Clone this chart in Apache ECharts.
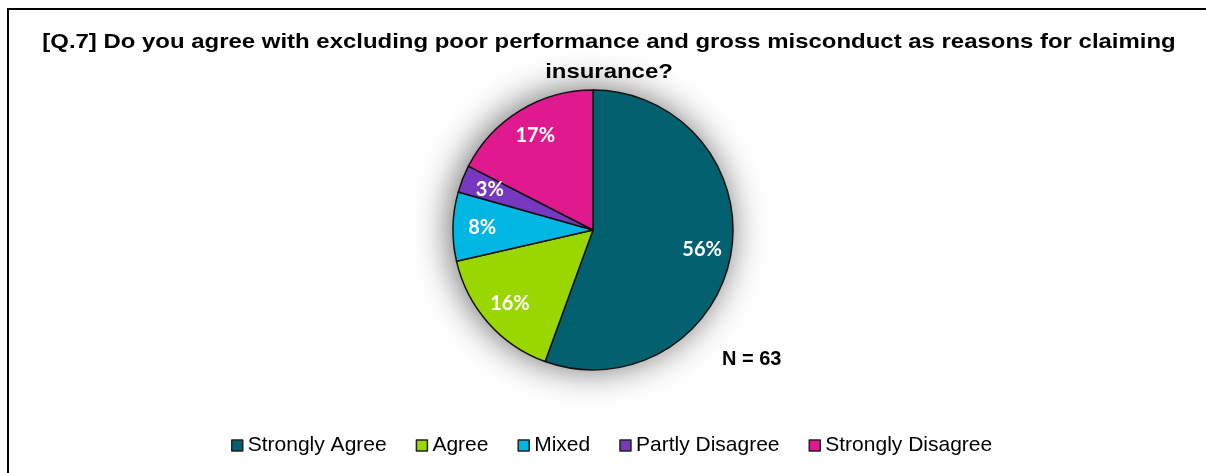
<!DOCTYPE html>
<html>
<head>
<meta charset="utf-8">
<script src="https://cdn.jsdelivr.net/npm/echarts@6/dist/echarts.min.js"></script>
<style>
  html, body { margin: 0; padding: 0; background: #ffffff; }
  #chart { width: 1206px; height: 473px; }
</style>
</head>
<body>
<div id="chart"></div>
<script>
// Survey responses for question 7 (N = 63)
const categories = ['Strongly Agree', 'Agree', 'Mixed', 'Partly Disagree', 'Strongly Disagree'];
const responseCounts = [35, 10, 5, 2, 11];
const sliceColors = ['#03616F', '#9AD600', '#00B6E2', '#7538BE', '#E0198F'];
const titleLines = [
  '[Q.7] Do you agree with excluding poor performance and gross misconduct as reasons for claiming',
  'insurance?'
];
const sampleNote = 'N = 63';

const total = responseCounts.reduce((a, b) => a + b, 0);
const pieData = categories.map((name, i) => ({
  name: name,
  value: responseCounts[i],
  itemStyle: { color: sliceColors[i] }
}));

const center = [593, 230];
const R = 140;

const chart = echarts.init(document.getElementById('chart'), null, { renderer: 'canvas' });
chart.setOption({
  backgroundColor: '#ffffff',
  animation: false,
  legend: {
    data: categories,
    left: 226,
    top: 430,
    itemWidth: 11,
    itemHeight: 11,
    itemGap: 29,
    icon: 'rect',
    itemStyle: { borderColor: '#222222', borderWidth: 1.5 },
    textStyle: {
      fontFamily: 'Liberation Sans, Arial, sans-serif',
      fontSize: 21,
      color: '#000000'
    }
  },
  graphic: [
    {
      type: 'rect',
      x: 8,
      y: 9,
      shape: { width: 1230, height: 500 },
      style: { fill: 'none', stroke: '#000000', lineWidth: 2 },
      silent: true,
      z: 0
    },
    {
      // chart title, drawn slightly widened
      type: 'text',
      x: 609,
      y: 27,
      scaleX: 1.14,
      style: {
        text: titleLines.join('\n'),
        textAlign: 'center',
        fontFamily: 'Liberation Sans, Arial, sans-serif',
        fontWeight: 'bold',
        fontSize: 21,
        lineHeight: 30,
        fill: '#000000'
      },
      silent: true
    },
    {
      type: 'text',
      x: 722,
      y: 349,
      style: {
        text: sampleNote,
        fontFamily: 'Liberation Sans, Arial, sans-serif',
        fontWeight: 'bold',
        fontSize: 20,
        fill: '#000000'
      },
      silent: true
    }
  ],
  series: [
    {
      // soft shadow disc behind the pie
      type: 'pie',
      center: center,
      radius: R,
      silent: true,
      z: 1,
      label: { show: false },
      labelLine: { show: false },
      data: [{ value: 1, name: '_shadow', itemStyle: { color: '#ffffff' } }],
      itemStyle: { shadowBlur: 36, shadowColor: 'rgba(0,0,0,0.6)', shadowOffsetX: -3, shadowOffsetY: -1 },
      legendHoverLink: false
    },
    {
      type: 'pie',
      center: center,
      radius: R,
      startAngle: 90,
      clockwise: true,
      z: 2,
      data: pieData,
      itemStyle: { borderColor: '#111111', borderWidth: 1.5 },
      label: { show: false },
      labelLine: { show: false }
    },
    {
      // transparent ring used only to place the percentage labels
      type: 'pie',
      center: center,
      radius: [R * 0.54, R],
      startAngle: 90,
      clockwise: true,
      silent: true,
      z: 3,
      data: pieData.map(d => ({ name: d.name, value: d.value, itemStyle: { color: 'rgba(0,0,0,0)' } })),
      itemStyle: { borderWidth: 0 },
      legendHoverLink: false,
      label: {
        show: true,
        position: 'inside',
        formatter: p => Math.round(p.value / total * 100) + '%',
        fontFamily: 'Lato, Open Sans, sans-serif',
        fontWeight: 'bold',
        fontSize: 20,
        color: '#ffffff'
      },
      labelLine: { show: false }
    }
  ]
});
</script>
</body>
</html>
